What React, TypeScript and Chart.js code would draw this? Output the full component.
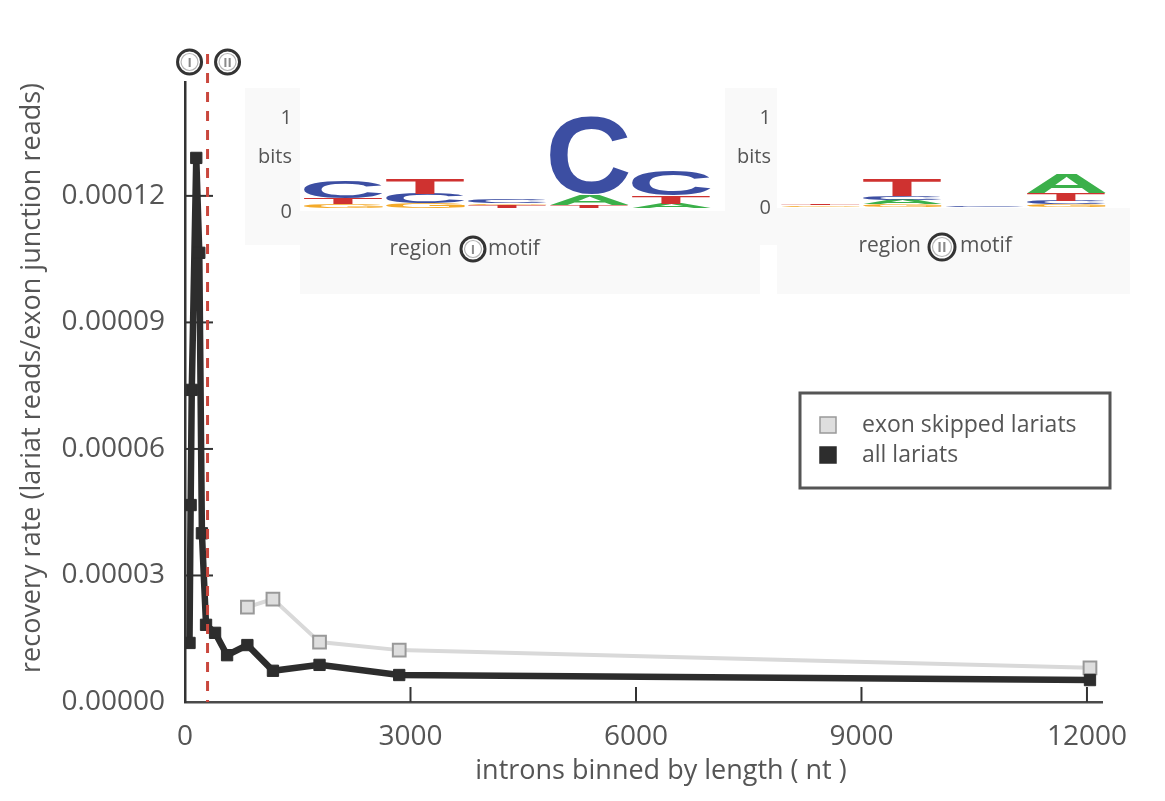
import React, { useEffect, useRef } from "react";
import { Chart, registerables } from "chart.js";

Chart.register(...registerables);

// ---------- data ----------
const SERIES_LABELS = ["exon skipped lariats", "all lariats"];
const ALL_X = [60, 75, 90, 150, 190, 225, 280, 400, 560, 830, 1170, 1790, 2850, 12040];
const ALL_Y = [
  0.0000140, 0.0000467, 0.0000740, 0.000129, 0.0001065, 0.0000400, 0.0000183,
  0.0000164, 0.0000111, 0.0000135, 0.0000074, 0.0000088, 0.0000064, 0.0000052,
];
const SKIP_X = [830, 1170, 1790, 2850, 12040];
const SKIP_Y = [0.0000225, 0.0000244, 0.0000142, 0.0000123, 0.0000081];

const X_TICKS = [0, 3000, 6000, 9000, 12000];
const X_TICK_LABELS = ["0", "3000", "6000", "9000", "12000"];
const Y_TICKS = [0, 0.00003, 0.00006, 0.00009, 0.00012];
const Y_TICK_LABELS = ["0.00000", "0.00003", "0.00006", "0.00009", "0.00012"];
const X_MAX = 12200;
const Y_MAX = 0.000147;
const REGION_SPLIT_NT = 300;
const REGION_MARKS = ["i", "ii"];

const X_TITLE = "introns binned by length ( nt )";
const Y_TITLE = "recovery rate (lariat reads/exon junction reads)";

// sequence logos: each column is a stack of [letter, bits] from bottom to top
const MOTIF_I: [string, number][][] = [
  [["G", 0.04], ["T", 0.07], ["C", 0.19]],
  [["G", 0.05], ["C", 0.11], ["T", 0.17]],
  [["T", 0.03], ["G", 0.02], ["C", 0.04]],
  [["T", 0.03], ["A", 0.12], ["C", 0.86]],
  [["A", 0.05], ["T", 0.09], ["C", 0.27]],
];
const MOTIF_II: [string, number][][] = [
  [["G", 0.02], ["T", 0.01]],
  [["G", 0.03], ["A", 0.05], ["C", 0.04], ["T", 0.19]],
  [["C", 0.02]],
  [["G", 0.03], ["C", 0.04], ["T", 0.09], ["A", 0.22]],
];
const LOGO_AXIS_LABELS = ["1", "bits", "0"];

// ---------- style ----------
const FONT = '"Open Sans", "Noto Sans", sans-serif';
const TEXT = "#555555";
const LETTER_COLORS: Record<string, string> = {
  A: "#3bb04a",
  C: "#3c4ea2",
  G: "#f4aa2a",
  T: "#cf3230",
};

function drawLetter(ctx: CanvasRenderingContext2D, ch: string, x: number, yBottom: number, w: number, h: number) {
  if (h < 0.6) return;
  ctx.save();
  ctx.font = 'bold 100px "Liberation Sans", Arial, sans-serif';
  const m = ctx.measureText(ch);
  const gw = m.actualBoundingBoxLeft + m.actualBoundingBoxRight;
  const gh = m.actualBoundingBoxAscent + m.actualBoundingBoxDescent;
  ctx.translate(x, yBottom);
  ctx.scale(w / gw, h / gh);
  ctx.fillStyle = LETTER_COLORS[ch] || "#000";
  ctx.textAlign = "left";
  ctx.textBaseline = "alphabetic";
  ctx.fillText(ch, m.actualBoundingBoxLeft, -m.actualBoundingBoxDescent);
  ctx.restore();
}

function drawCircled(ctx: CanvasRenderingContext2D, cx: number, cy: number, r: number, label: string) {
  ctx.save();
  ctx.beginPath();
  ctx.arc(cx, cy, r, 0, Math.PI * 2);
  ctx.fillStyle = "#ffffff";
  ctx.fill();
  ctx.lineWidth = 3;
  ctx.strokeStyle = "#333333";
  ctx.stroke();
  ctx.beginPath();
  ctx.arc(cx, cy, r - 3.5, 0, Math.PI * 2);
  ctx.lineWidth = 1.2;
  ctx.strokeStyle = "#b5b5b5";
  ctx.stroke();
  ctx.fillStyle = "#8a8a8a";
  ctx.font = `bold ${Math.round(r * 1.05)}px ${FONT}`;
  ctx.textAlign = "center";
  ctx.textBaseline = "middle";
  ctx.fillText(label.toUpperCase(), cx, cy + 1);
  ctx.restore();
}

function drawLogo(
  ctx: CanvasRenderingContext2D,
  motif: [string, number][][],
  x0: number,
  colW: number,
  baseY: number,
  bitPx: number
) {
  motif.forEach((col, i) => {
    let y = baseY;
    const x = x0 + i * colW + 1;
    col.forEach(([ch, bits]) => {
      const h = bits * bitPx;
      drawLetter(ctx, ch, x, y, colW - 3, h);
      y -= h;
    });
  });
}

const decorPlugin = {
  id: "decor",
  beforeDatasetsDraw(chart: any) {
    const ctx: CanvasRenderingContext2D = chart.ctx;
    const { left, bottom } = chart.chartArea;
    const xs = chart.scales.x;
    const ys = chart.scales.y;
    ctx.save();

    // inset backgrounds
    ctx.fillStyle = "#f9f9f9";
    ctx.fillRect(245, 88, 55, 157);
    ctx.fillRect(300, 211, 460, 83);
    ctx.fillRect(725, 88, 52, 157);
    ctx.fillRect(777, 208, 353, 86);

    // logos
    drawLogo(ctx, MOTIF_I, 303, 82, 208, 90);
    drawLogo(ctx, MOTIF_II, 780, 82, 207, 90);

    // logo axis labels
    ctx.fillStyle = TEXT;
    ctx.font = `20px ${FONT}`;
    ctx.textAlign = "right";
    ctx.textBaseline = "middle";
    const labY = [118, 157, 212];
    LOGO_AXIS_LABELS.forEach((t, i) => {
      ctx.fillText(t, 292, labY[i]);
      ctx.fillText(t, 771, labY[i] - (i === 2 ? 4 : 0));
    });

    // captions
    ctx.font = `21px ${FONT}`;
    ctx.textBaseline = "middle";
    ctx.textAlign = "right";
    ctx.fillText("region", 452, 249);
    ctx.fillText("region", 921, 246);
    ctx.textAlign = "left";
    ctx.fillText("motif", 488, 249);
    ctx.fillText("motif", 960, 246);
    drawCircled(ctx, 473, 249, 12, REGION_MARKS[0]);
    drawCircled(ctx, 942, 247, 13, REGION_MARKS[1]);

    // inward tick marks
    ctx.strokeStyle = "#333333";
    ctx.lineWidth = 2;
    X_TICKS.forEach((v) => {
      if (v === 0) return;
      const px = xs.getPixelForValue(v);
      ctx.beginPath();
      ctx.moveTo(px, bottom);
      ctx.lineTo(px, bottom - 15);
      ctx.stroke();
    });
    Y_TICKS.forEach((v) => {
      if (v === 0) return;
      const py = ys.getPixelForValue(v);
      ctx.beginPath();
      ctx.moveTo(left, py);
      ctx.lineTo(left + 28, py);
      ctx.stroke();
    });

    // axis titles
    ctx.fillStyle = TEXT;
    ctx.font = `27px ${FONT}`;
    ctx.textAlign = "center";
    ctx.textBaseline = "middle";
    ctx.fillText(X_TITLE, 661, 771);
    ctx.save();
    ctx.translate(32, 378);
    ctx.rotate(-Math.PI / 2);
    ctx.fillText(Y_TITLE, 0, 0);
    ctx.restore();

    ctx.restore();
  },
  afterDatasetsDraw(chart: any) {
    const ctx: CanvasRenderingContext2D = chart.ctx;
    const { bottom } = chart.chartArea;
    const xs = chart.scales.x;
    const sx = xs.getPixelForValue(REGION_SPLIT_NT);
    ctx.save();
    // red dashed region boundary
    ctx.strokeStyle = "#c9473d";
    ctx.lineWidth = 3;
    ctx.setLineDash([10, 9]);
    ctx.beginPath();
    ctx.moveTo(sx, 54);
    ctx.lineTo(sx, bottom);
    ctx.stroke();
    ctx.setLineDash([]);
    drawCircled(ctx, sx - 18, 62, 12, REGION_MARKS[0]);
    drawCircled(ctx, sx + 20, 62, 12, REGION_MARKS[1]);

    // legend
    ctx.strokeStyle = "#555555";
    ctx.lineWidth = 3;
    ctx.strokeRect(800, 393, 310, 95);
    const ds = chart.data.datasets;
    const itemY = [425, 455];
    ds.forEach((d: any, i: number) => {
      const y = itemY[i];
      ctx.fillStyle = d.pointBackgroundColor;
      ctx.fillRect(820, y - 8, 16, 16);
      ctx.strokeStyle = d.pointBorderColor;
      ctx.lineWidth = 1.5;
      ctx.strokeRect(820, y - 8, 16, 16);
      ctx.fillStyle = TEXT;
      ctx.font = `23px ${FONT}`;
      ctx.textAlign = "left";
      ctx.textBaseline = "middle";
      ctx.fillText(d.label, 862, y);
    });
    ctx.restore();
  },
};

export default function App() {
  const ref = useRef<HTMLCanvasElement | null>(null);

  useEffect(() => {
    if (!ref.current) return;
    const chart = new Chart(ref.current, {
      type: "line",
      data: {
        datasets: [
          {
            label: SERIES_LABELS[0],
            data: SKIP_X.map((x, i) => ({ x, y: SKIP_Y[i] })),
            borderColor: "#d9d9d9",
            borderWidth: 4,
            pointStyle: "rect",
            pointRadius: 9,
            pointBackgroundColor: "#dedede",
            pointBorderColor: "#999999",
            pointBorderWidth: 2,
            tension: 0,
            order: 1,
          },
          {
            label: SERIES_LABELS[1],
            data: ALL_X.map((x, i) => ({ x, y: ALL_Y[i] })),
            borderColor: "#2d2d2d",
            borderWidth: 6.5,
            pointStyle: "rect",
            pointRadius: 8,
            pointBackgroundColor: "#2d2d2d",
            pointBorderColor: "#2d2d2d",
            pointBorderWidth: 1,
            tension: 0,
            order: 0,
          },
        ],
      },
      options: {
        animation: false,
        responsive: false,
        layout: { padding: { top: 82, right: 63, left: 0, bottom: 0 } },
        plugins: { legend: { display: false }, tooltip: { enabled: false } },
        scales: {
          x: {
            type: "linear",
            min: 0,
            max: X_MAX,
            afterBuildTicks: (s: any) => {
              s.ticks = X_TICKS.map((v) => ({ value: v }));
            },
            afterFit: (s: any) => {
              s.height = 99;
            },
            grid: { display: false, drawTicks: false },
            border: { display: true, color: "#4a4a4a", width: 2.5 },
            ticks: {
              autoSkip: false,
              maxRotation: 0,
              padding: 18,
              color: TEXT,
              font: { family: FONT, size: 28 },
              callback: (_v: any, i: number) => X_TICK_LABELS[i],
            },
          },
          y: {
            type: "linear",
            min: 0,
            max: Y_MAX,
            afterBuildTicks: (s: any) => {
              s.ticks = Y_TICKS.map((v) => ({ value: v }));
            },
            afterFit: (s: any) => {
              s.width = 185;
            },
            grid: { display: false, drawTicks: false },
            border: { display: true, color: "#333333", width: 2.5 },
            ticks: {
              autoSkip: false,
              padding: 20,
              color: TEXT,
              font: { family: FONT, size: 28 },
              callback: (_v: any, i: number) => Y_TICK_LABELS[i],
            },
          },
        },
      },
      plugins: [decorPlugin],
    });
    return () => chart.destroy();
  }, []);

  return (
    <div style={{ position: "fixed", left: 0, top: 0, width: 1165, height: 801, background: "#fff" }}>
      <canvas ref={ref} width={1165} height={801} style={{ display: "block" }} />
    </div>
  );
}
